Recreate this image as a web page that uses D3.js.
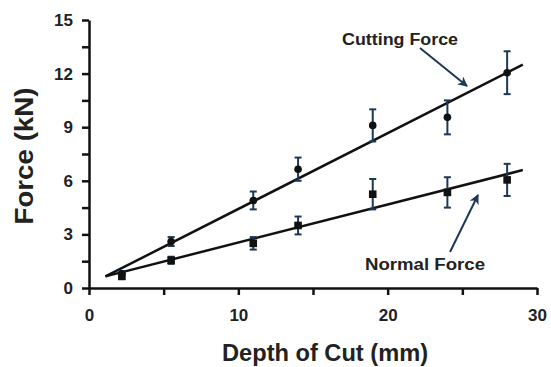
<!DOCTYPE html>
<html>
<head>
<meta charset="utf-8">
<script src="https://cdn.jsdelivr.net/npm/d3@7"></script>
<style>
  body { margin: 0; background: #fff; }
  svg { font-family: Arial, "Liberation Sans", sans-serif; }
</style>
</head>
<body>
<svg id="chart" width="551" height="367"></svg>
<script>
// depth of cut (mm) for each measurement
const depth = [2.2, 5.5, 11, 14, 19, 24, 28]

// cutting force (kN) with error
const cutting = [0.8, 2.6, 4.9, 6.65, 9.1, 9.55, 12.05]
const cuttingErr = [0.15, 0.25, 0.5, 0.65, 0.9, 0.95, 1.2]

// normal force (kN) with error
const normal = [0.65, 1.55, 2.5, 3.5, 5.25, 5.35, 6.05]
const normalErr = [0.15, 0.2, 0.35, 0.5, 0.85, 0.85, 0.9]

// fitted lines, end points
const fitDepth = [1.1, 29.05]
const cuttingFit = [0.65, 12.5]
const normalFit = [0.65, 6.6]

const xTicks = [0, 5, 10, 15, 20, 25, 30]
const yTicks = [0, 1.5, 3, 4.5, 6, 7.5, 9, 10.5, 12, 13.5, 15]

const svg = d3.select('#chart')
const ink = '#111'
const navy = '#1d3856'

const x = d3.scaleLinear().domain([0, 30]).range([89, 537])
const y = d3.scaleLinear().domain([0, 15]).range([288, 20])

// axes
const xAxis = svg.append('g')
    .attr('transform', `translate(0, ${y(0)})`)
    .call(d3.axisBottom(x)
        .tickValues(xTicks)
        .tickFormat(d => d % 10 === 0 ? d : '')
        .tickSize(7).tickSizeOuter(0).tickPadding(14))
const yAxis = svg.append('g')
    .attr('transform', `translate(${x(0)}, 0)`)
    .call(d3.axisLeft(y)
        .tickValues(yTicks)
        .tickFormat(d => d % 3 === 0 ? d : '')
        .tickSize(7).tickSizeOuter(0).tickPadding(9))

for (const ax of [xAxis, yAxis]) {
    ax.select('.domain').attr('stroke', ink).attr('stroke-width', 2.5)
    ax.selectAll('.tick line').attr('stroke', ink).attr('stroke-width', 2.5)
    ax.selectAll('.tick text')
        .attr('fill', '#222')
        .attr('font-size', 17)
        .attr('font-weight', 'bold')
}

// axis titles
svg.append('text')
    .attr('x', 325).attr('y', 361)
    .attr('text-anchor', 'middle')
    .attr('font-size', 24).attr('font-weight', 'bold').attr('fill', '#222')
    .attr('textLength', 206).attr('lengthAdjust', 'spacingAndGlyphs')
    .text('Depth of Cut (mm)')
svg.append('text')
    .attr('transform', 'translate(33, 156) rotate(-90)')
    .attr('text-anchor', 'middle')
    .attr('font-size', 25).attr('font-weight', 'bold').attr('fill', '#222')
    .attr('textLength', 137).attr('lengthAdjust', 'spacingAndGlyphs')
    .text('Force (kN)')

// fit lines
const line = d3.line().x(d => x(d[0])).y(d => y(d[1]))
for (const fit of [cuttingFit, normalFit]) {
    svg.append('path')
        .attr('d', line(fitDepth.map((d, i) => [d, fit[i]])))
        .attr('fill', 'none')
        .attr('stroke', ink)
        .attr('stroke-width', 2.5)
}

// error bars
function errorBars(vals, errs) {
    const g = svg.append('g').attr('stroke', navy).attr('stroke-width', 2)
    const cap = 3.5
    depth.forEach((d, i) => {
        const cx = x(d), top = y(vals[i] + errs[i]), bot = y(vals[i] - errs[i])
        g.append('line').attr('x1', cx).attr('x2', cx).attr('y1', top).attr('y2', bot)
        g.append('line').attr('x1', cx - cap).attr('x2', cx + cap).attr('y1', top).attr('y2', top)
        g.append('line').attr('x1', cx - cap).attr('x2', cx + cap).attr('y1', bot).attr('y2', bot)
    })
}
errorBars(cutting, cuttingErr)
errorBars(normal, normalErr)

// markers
svg.append('g').selectAll('circle')
    .data(depth)
    .join('circle')
    .attr('cx', d => x(d))
    .attr('cy', (d, i) => y(cutting[i]))
    .attr('r', 3.8)
    .attr('fill', ink)
svg.append('g').selectAll('rect')
    .data(depth)
    .join('rect')
    .attr('x', d => x(d) - 3.8)
    .attr('y', (d, i) => y(normal[i]) - 3.8)
    .attr('width', 7.6).attr('height', 7.6)
    .attr('fill', ink)

// annotations
svg.append('defs').append('marker')
    .attr('id', 'head')
    .attr('viewBox', '0 0 10 10')
    .attr('refX', 9).attr('refY', 5)
    .attr('markerWidth', 5).attr('markerHeight', 5)
    .attr('orient', 'auto')
    .append('path')
    .attr('d', 'M0,0 L10,5 L0,10 L3,5 Z')
    .attr('fill', navy)

svg.append('text')
    .attr('x', 342).attr('y', 45)
    .attr('font-size', 16).attr('font-weight', 'bold').attr('fill', '#222')
    .attr('textLength', 116).attr('lengthAdjust', 'spacingAndGlyphs')
    .text('Cutting Force')
svg.append('line')
    .attr('x1', 420).attr('y1', 48).attr('x2', 467).attr('y2', 86)
    .attr('stroke', navy).attr('stroke-width', 2)
    .attr('marker-end', 'url(#head)')

svg.append('text')
    .attr('x', 365).attr('y', 270)
    .attr('font-size', 16).attr('font-weight', 'bold').attr('fill', '#222')
    .attr('textLength', 120).attr('lengthAdjust', 'spacingAndGlyphs')
    .text('Normal Force')
svg.append('line')
    .attr('x1', 450).attr('y1', 252).attr('x2', 478).attr('y2', 195)
    .attr('stroke', navy).attr('stroke-width', 2)
    .attr('marker-end', 'url(#head)')
</script>
</body>
</html>
